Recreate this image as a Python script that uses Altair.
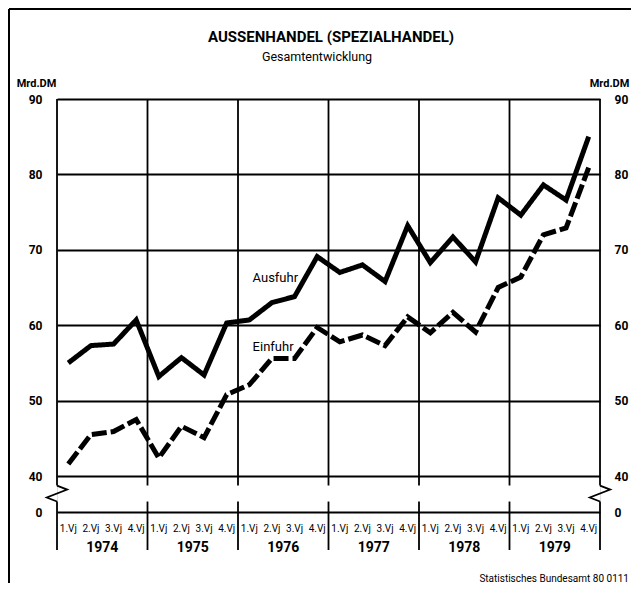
import altair as alt
import pandas as pd

# ---- data ----
years = [1974, 1975, 1976, 1977, 1978, 1979]
quarter_labels = ["1.Vj", "2.Vj", "3.Vj", "4.Vj"]
ausfuhr = [55.0, 57.3, 57.5, 60.7, 53.2, 55.7, 53.4, 60.3,
           60.7, 63.0, 63.8, 69.1, 67.0, 68.0, 65.8, 73.2,
           68.3, 71.7, 68.4, 76.9, 74.6, 78.6, 76.6, 85.0]
einfuhr = [41.6, 45.5, 45.9, 47.5, 42.4, 46.6, 45.1, 50.8,
           52.1, 55.6, 55.6, 59.7, 57.8, 58.7, 57.3, 61.1,
           59.0, 61.7, 59.1, 65.0, 66.4, 72.0, 72.9, 80.9]
series_names = ["Ausfuhr", "Einfuhr"]
series_label_pos = [(9.65, 66.3), (9.55, 57.1)]
y_ticks = [40, 50, 60, 70, 80, 90]
title_text = "AUSSENHANDEL (SPEZIALHANDEL)"
subtitle_text = "Gesamtentwicklung"
source_text = "Statistisches Bundesamt 80 0111"

W, H = 543, 413
BREAK_LOW = 40 - 36 / 7.55     # compressed 0..40 segment (axis break)
FONT = "Roboto, Lato, sans-serif"
LW = 1.8

nq = len(ausfuhr)
rows = []
for i in range(nq):
    rows.append({"q": i + 0.5, "value": ausfuhr[i], "series": "Ausfuhr"})
    rows.append({"q": i + 0.5, "value": einfuhr[i], "series": "Einfuhr"})
df = pd.DataFrame(rows)

xs = alt.Scale(domain=[0, nq], nice=False, zero=False)
ys = alt.Scale(domain=[BREAK_LOW, 90], nice=False, zero=False)
tick_vals = [BREAK_LOW] + y_ticks
label_expr = "datum.value < 39 ? '0' : datum.label"

# main lines with left axis
lines = alt.Chart(df).mark_line(color="black", strokeWidth=5, strokeCap="butt",
                                strokeJoin="miter").encode(
    x=alt.X("q:Q", scale=xs,
            axis=alt.Axis(values=list(range(nq + 1)), labels=False, ticks=True,
                          tickSize=8, tickWidth=LW, tickColor="black",
                          domain=True, domainColor="black", domainWidth=2,
                          grid=False, title=None)),
    y=alt.Y("value:Q", scale=ys,
            axis=alt.Axis(values=tick_vals, labelExpr=label_expr, grid=True,
                          gridColor="black", gridWidth=LW, gridOpacity=1,
                          domain=False, ticks=False, labelPadding=15,
                          labelFont=FONT, labelFontSize=12, labelFontWeight="bold",
                          labelColor="black",
                          title="Mrd.DM", titleAngle=0, titleX=-21, titleY=-16,
                          titleAlign="center", titleBaseline="middle",
                          titleFont=FONT, titleFontSize=11, titleFontWeight="bold",
                          titleColor="black")),
    strokeDash=alt.StrokeDash("series:N",
                              scale=alt.Scale(domain=series_names,
                                              range=[[1, 0], [15, 4]]),
                              legend=None),
    detail="series:N",
)

# right axis (same scale)
right_axis = alt.Chart(pd.DataFrame({"v": tick_vals})).mark_point(opacity=0).encode(
    y=alt.Y("v:Q", scale=ys,
            axis=alt.Axis(orient="right", values=tick_vals, labelExpr=label_expr,
                          grid=False, domain=False, ticks=False, labelPadding=14,
                          labelFont=FONT, labelFontSize=12, labelFontWeight="bold",
                          labelColor="black",
                          title="Mrd.DM", titleAngle=0, titleX=9, titleY=-16,
                          titleAlign="center", titleBaseline="middle",
                          titleFont=FONT, titleFontSize=11, titleFontWeight="bold",
                          titleColor="black")),
)

# vertical year separators (with gap at the axis break)
bounds = pd.DataFrame({"b": [4 * k for k in range(len(years) + 1)]})
vtop = alt.Chart(bounds).mark_rule(color="black", strokeWidth=LW).encode(
    x=alt.X("b:Q", scale=xs, axis=None),
    y=alt.Y("t:Q", scale=ys, axis=None),
    y2="t2:Q",
).transform_calculate(t="90", t2="38.74")
vbot = alt.Chart(bounds).mark_rule(color="black", strokeWidth=LW).encode(
    x=alt.X("b:Q", scale=xs, axis=None),
    y=alt.Y("t:Q", scale=ys, axis=None),
    y2="t2:Q",
).transform_calculate(t="36.62", t2=str(BREAK_LOW))
vbelow = alt.Chart(bounds).mark_rule(color="black", strokeWidth=LW).encode(
    x=alt.X("b:Q", scale=xs, axis=None),
    y=alt.value(H),
    y2=alt.value(H + 38),
)

# zigzag break symbols on both side borders
zig_dx = [0, 0.45, -0.45, 0]
zig_v = [38.74, 38.21, 37.15, 36.62]
zrows = []
for b in [0, nq]:
    for k in range(len(zig_dx)):
        zrows.append({"b": b, "x": b + zig_dx[k], "v": zig_v[k], "o": k})
zig = alt.Chart(pd.DataFrame(zrows)).mark_line(color="black", strokeWidth=LW).encode(
    x=alt.X("x:Q", scale=xs, axis=None),
    y=alt.Y("v:Q", scale=ys, axis=None),
    detail="b:N",
    order="o:Q",
)

# series labels
lab_df = pd.DataFrame({"name": series_names,
                       "x": [p[0] for p in series_label_pos],
                       "y": [p[1] for p in series_label_pos]})
labels = alt.Chart(lab_df).mark_text(font=FONT, fontSize=13, color="black").encode(
    x=alt.X("x:Q", scale=xs, axis=None),
    y=alt.Y("y:Q", scale=ys, axis=None),
    text="name:N",
)

# quarter and year labels below axis
qdf = pd.DataFrame({"x": [i + 0.5 for i in range(nq)],
                    "t": [quarter_labels[i % 4] for i in range(nq)]})
qlab = alt.Chart(qdf).mark_text(font=FONT, fontSize=10, color="black",
                                baseline="middle").encode(
    x=alt.X("x:Q", scale=xs, axis=None),
    y=alt.value(H + 17),
    text="t:N",
)
ydf = pd.DataFrame({"x": [4 * k + 2 for k in range(len(years))],
                    "t": [str(y) for y in years]})
ylab = alt.Chart(ydf).mark_text(font=FONT, fontSize=14, fontWeight="bold",
                                color="black", baseline="middle").encode(
    x=alt.X("x:Q", scale=xs, axis=None),
    y=alt.value(H + 36),
    text="t:N",
)

# title, subtitle, footer
title = alt.Chart(pd.DataFrame({"t": [title_text]})).mark_text(
    font=FONT, fontSize=15, fontWeight="bold", color="black",
    align="center", baseline="middle").encode(
    x=alt.value(274), y=alt.value(-62), text="t:N")
subtitle = alt.Chart(pd.DataFrame({"t": [subtitle_text]})).mark_text(
    font=FONT, fontSize=12.5, color="black",
    align="center", baseline="middle").encode(
    x=alt.value(260), y=alt.value(-42), text="t:N")
footer = alt.Chart(pd.DataFrame({"t": [source_text]})).mark_text(
    font=FONT, fontSize=10, color="black", align="right", baseline="middle").encode(
    x=alt.value(W + 29), y=alt.value(H + 67), text="t:N")

# outer frame (top and left)
frame_top = alt.Chart(pd.DataFrame({"a": [0]})).mark_rule(color="black", strokeWidth=2).encode(
    x=alt.value(-48), x2=alt.value(W + 31), y=alt.value(-90))
frame_left = alt.Chart(pd.DataFrame({"a": [0]})).mark_rule(color="black", strokeWidth=2).encode(
    x=alt.value(-48), y=alt.value(-90), y2=alt.value(H + 75))

chart = alt.layer(
    lines, right_axis, vtop, vbot, vbelow, zig, labels, qlab, ylab,
    title, subtitle, footer, frame_top, frame_left,
).resolve_axis(y="independent").properties(
    width=W, height=H,
    autosize=alt.AutoSizeParams(type="none"),
    padding={"left": 49, "top": 91, "right": 31, "bottom": 71},
).configure_view(stroke=None).configure(background="white")

chart.save("out.html", embed_options={"renderer": "svg", "actions": False})
